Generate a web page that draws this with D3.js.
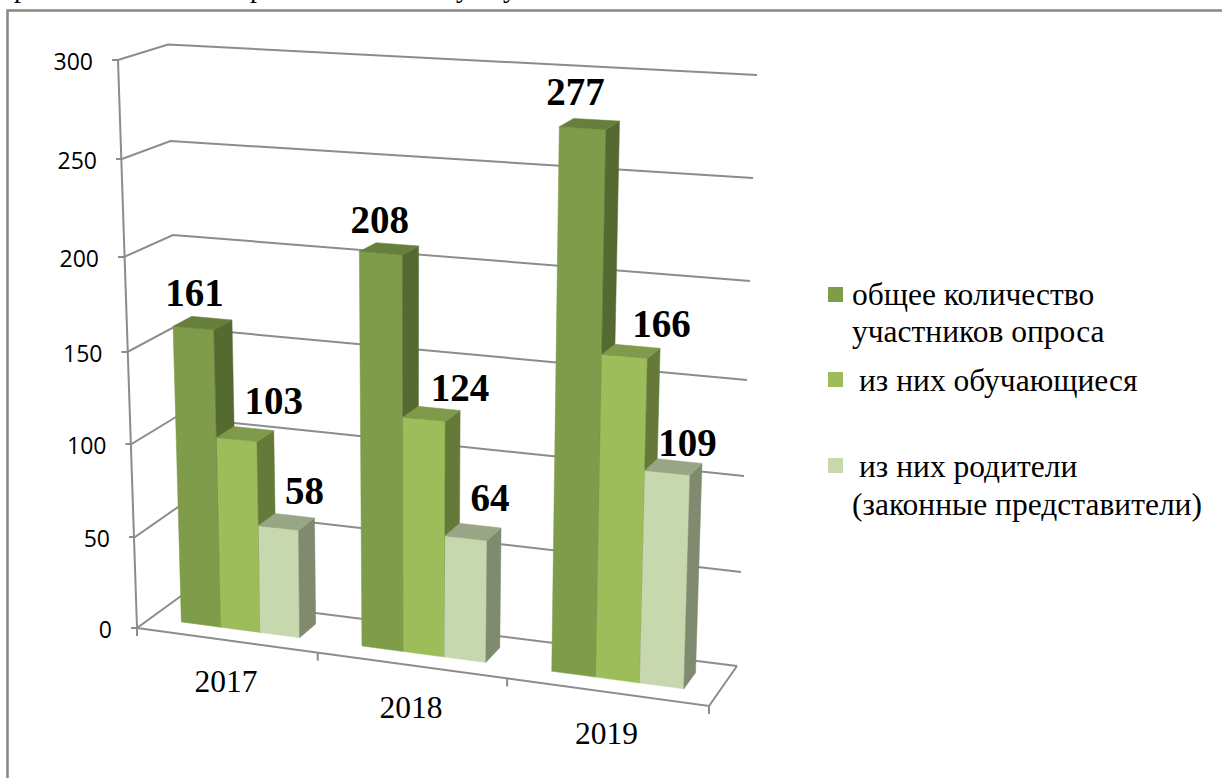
<!DOCTYPE html>
<html>
<head>
<meta charset="utf-8">
<script src="https://cdn.jsdelivr.net/npm/d3@7"></script>
<style>
    html, body { margin: 0; padding: 0; background: #fff; overflow: hidden; }
    text { fill: #000; }
    .serif { font-family: "Liberation Serif", serif; }
    .tick { font-family: "Open Sans", sans-serif; font-size: 23px; }
</style>
</head>
<body>
<svg id="chart" width="1222" height="778"></svg>
<script>
// Values
var years = ["2017", "2018", "2019"];
var seriesNames = ["общее количество участников опроса", "из них обучающиеся", "из них родители (законные представители)"];
var totalValues = [161, 208, 277];
var pupilValues = [103, 124, 166];
var parentValues = [58, 64, 109];
var valueTicks = [0, 50, 100, 150, 200, 250, 300];

var seriesValues = [totalValues, pupilValues, parentValues];

// Colours per series: front, side, top
var faceColors = [
    ["#7f9c4a", "#556a30", "#66803b"],
    ["#9dbc5a", "#657a39", "#7f9a4a"],
    ["#c8d8ae", "#7f8a6f", "#98a685"]
];

var svg = d3.select("#chart");
var gridColor = "#8c8c8c";

// Vertical edges of the 3D box: each one maps a value to a screen x and y
function edge(xs, ys) {
    return {
        x: d3.scaleLinear().domain(valueTicks).range(xs),
        y: d3.scaleLinear().domain(valueTicks).range(ys)
    };
}
var frontLeft = edge([137, 135, 131.5, 127.5, 124, 122, 118], [628, 537, 444, 352, 257, 159, 60]);
var backLeft = edge([181, 178, 176, 174, 173, 170.5, 168], [596, 507, 417, 327, 235, 141, 44.5]);
var backRight = edge([737, 741, 744, 747, 750, 753, 757], [666, 572, 476, 380, 281, 178, 75]);
var frontRight = edge([709, 712, 715, 718, 721, 724, 727], [706, 606, 506, 406, 304, 201, 97]);

// Category position (0..3) to share of the box width, the right side is nearer
var catShare = d3.scaleLinear().domain([0, 1, 2, 3]).range([0, 0.316, 0.647, 1]);

// c = category position, v = value, d = depth (0 front, 1 back wall)
function project(c, v, d) {
    var u = catShare(c);
    var mix = function (k) {
        var front = (1 - u) * frontLeft[k](v) + u * frontRight[k](v);
        var back = (1 - u) * backLeft[k](v) + u * backRight[k](v);
        return (1 - d) * front + d * back;
    };
    return [mix("x"), mix("y")];
}

var yearScale = d3.scaleBand().domain(years).range([0, 3]).paddingInner(0.34).paddingOuter(0.17);
var barScale = d3.scaleBand().domain(d3.range(seriesValues.length)).range([0, yearScale.bandwidth()]);
var barFront = 0.3156, barBack = 0.72;

var line = d3.line();

// Frame of the picture, open on the right and at the bottom
svg.append("path")
        .attr("d", line([[7.5, 778], [7.5, 10.5], [1222, 10.5]]))
        .attr("fill", "none")
        .attr("stroke", "#868686")
        .attr("stroke-width", 2.5);

// Descenders of the text line cut off above the picture
svg.selectAll("text.cut")
        .data([["р", 14], ["р", 250], ["у", 456], ["у", 503]])
        .enter()
        .append("text")
        .attr("class", "cut serif")
        .attr("x", function (d) { return d[1]; })
        .attr("y", -3)
        .attr("font-size", 28)
        .text(function (d) { return d[0]; });

// Gridlines on the left and back walls
var grid = svg.append("g")
        .attr("fill", "none")
        .attr("stroke", gridColor)
        .attr("stroke-width", 2);
grid.selectAll("path.wall")
        .data(valueTicks)
        .enter()
        .append("path")
        .attr("class", "wall")
        .attr("d", function (v) {
            return line([
                [frontLeft.x(v) - 6, frontLeft.y(v)],
                project(0, v, 0),
                project(0, v, 1),
                project(3, v, 1)
            ]);
        });
// Value axis and floor
grid.append("path")
        .attr("d", line([project(0, 0, 0), project(0, 300, 0)]));
grid.append("path")
        .attr("d", line([project(0, 0, 0), project(3, 0, 0), project(3, 0, 1)]));
grid.selectAll("path.catTick")
        .data(d3.range(years.length + 1))
        .enter()
        .append("path")
        .attr("class", "catTick")
        .attr("d", function (c) {
            var p = project(c, 0, 0);
            return line([p, [p[0], p[1] + 8]]);
        });

// Value tick labels
svg.selectAll("text.tick")
        .data(valueTicks)
        .enter()
        .append("text")
        .attr("class", "tick")
        .attr("text-anchor", "end")
        .attr("x", function (v) { return frontLeft.x(v) - 25; })
        .attr("y", function (v) { return frontLeft.y(v) + 10; })
        .text(function (v) { return v; });

// Category labels
svg.selectAll("text.year")
        .data(years)
        .enter()
        .append("text")
        .attr("class", "year serif")
        .attr("font-size", 31.5)
        .attr("text-anchor", "middle")
        .attr("x", function (d, i) { return project(i + 0.5, 0, 0)[0] - 1.5; })
        .attr("y", function (d, i) { return project(i + 0.5, 0, 0)[1] + 52; })
        .text(function (d) { return d; });

// Bars, left to right so each front face covers the side of the bar before it
var color = function (s, k) { return faceColors[s][k]; };
var groups = svg.selectAll("g.year")
        .data(years)
        .enter()
        .append("g")
        .attr("class", "year");

groups.each(function (year, yi) {
    var g = d3.select(this);
    seriesValues.forEach(function (values, s) {
        var v = values[yi];
        var c0 = yearScale(year) + barScale(s);
        var c1 = c0 + barScale.bandwidth();
        var faces = [
            [[c0, 0, barFront], [c1, 0, barFront], [c1, v, barFront], [c0, v, barFront]],
            [[c1, 0, barFront], [c1, 0, barBack], [c1, v, barBack], [c1, v, barFront]],
            [[c0, v, barFront], [c1, v, barFront], [c1, v, barBack], [c0, v, barBack]]
        ];
        g.selectAll("path.s" + s)
                .data(faces)
                .enter()
                .append("path")
                .attr("class", "s" + s)
                .attr("fill", function (d, k) { return color(s, k); })
                .attr("stroke", function (d, k) { return color(s, k); })
                .attr("stroke-width", 0.5)
                .attr("d", function (d) {
                    return line(d.map(function (q) {
                        return project(q[0], q[1], q[2]);
                    })) + "Z";
                });
    });
});

// Value labels sit over the bar top, each one nudged as in the picture [series][year]
var labelShift = [
    [[1, -22], [-1, -20], [-7, -23]],
    [[37, -26], [36, -18], [37, -19]],
    [[26, -24], [24, -27], [20, -17]]
];
var labelData = [];
seriesValues.forEach(function (values, s) {
    values.forEach(function (v, yi) {
        labelData.push({year: years[yi], yi: yi, series: s, value: v});
    });
});
svg.selectAll("text.value")
        .data(labelData)
        .enter()
        .append("text")
        .attr("class", "value serif")
        .attr("font-size", 39)
        .attr("font-weight", "bold")
        .attr("text-anchor", "middle")
        .attr("x", function (d) {
            var c = yearScale(d.year) + barScale(d.series) + barScale.bandwidth() / 2;
            return project(c, d.value, barFront)[0] + labelShift[d.series][d.yi][0];
        })
        .attr("y", function (d) {
            var c = yearScale(d.year) + barScale(d.series) + barScale.bandwidth() / 2;
            return project(c, d.value, barFront)[1] + labelShift[d.series][d.yi][1];
        })
        .text(function (d) { return d.value; });

// Legend, the labels are wrapped by hand as in the picture
var legendLines = [
    {series: 0, rows: [["общее количество", 852, 305], ["участников опроса", 852, 342]], box: 287},
    {series: 1, rows: [["из них обучающиеся", 859, 391]], box: 372},
    {series: 2, rows: [["из них родители", 859, 477], ["(законные представители)", 852, 515]], box: 458}
];
var legend = svg.selectAll("g.legend")
        .data(legendLines)
        .enter()
        .append("g")
        .attr("class", "legend");
legend.append("rect")
        .attr("x", 828)
        .attr("y", function (d) { return d.box; })
        .attr("width", 15)
        .attr("height", 15)
        .attr("fill", function (d) { return color(d.series, 0); });
legend.selectAll("text")
        .data(function (d) { return d.rows; })
        .enter()
        .append("text")
        .attr("class", "serif")
        .attr("font-size", 31.5)
        .attr("x", function (d) { return d[1]; })
        .attr("y", function (d) { return d[2]; })
        .text(function (d) { return d[0]; });
</script>
</body>
</html>
